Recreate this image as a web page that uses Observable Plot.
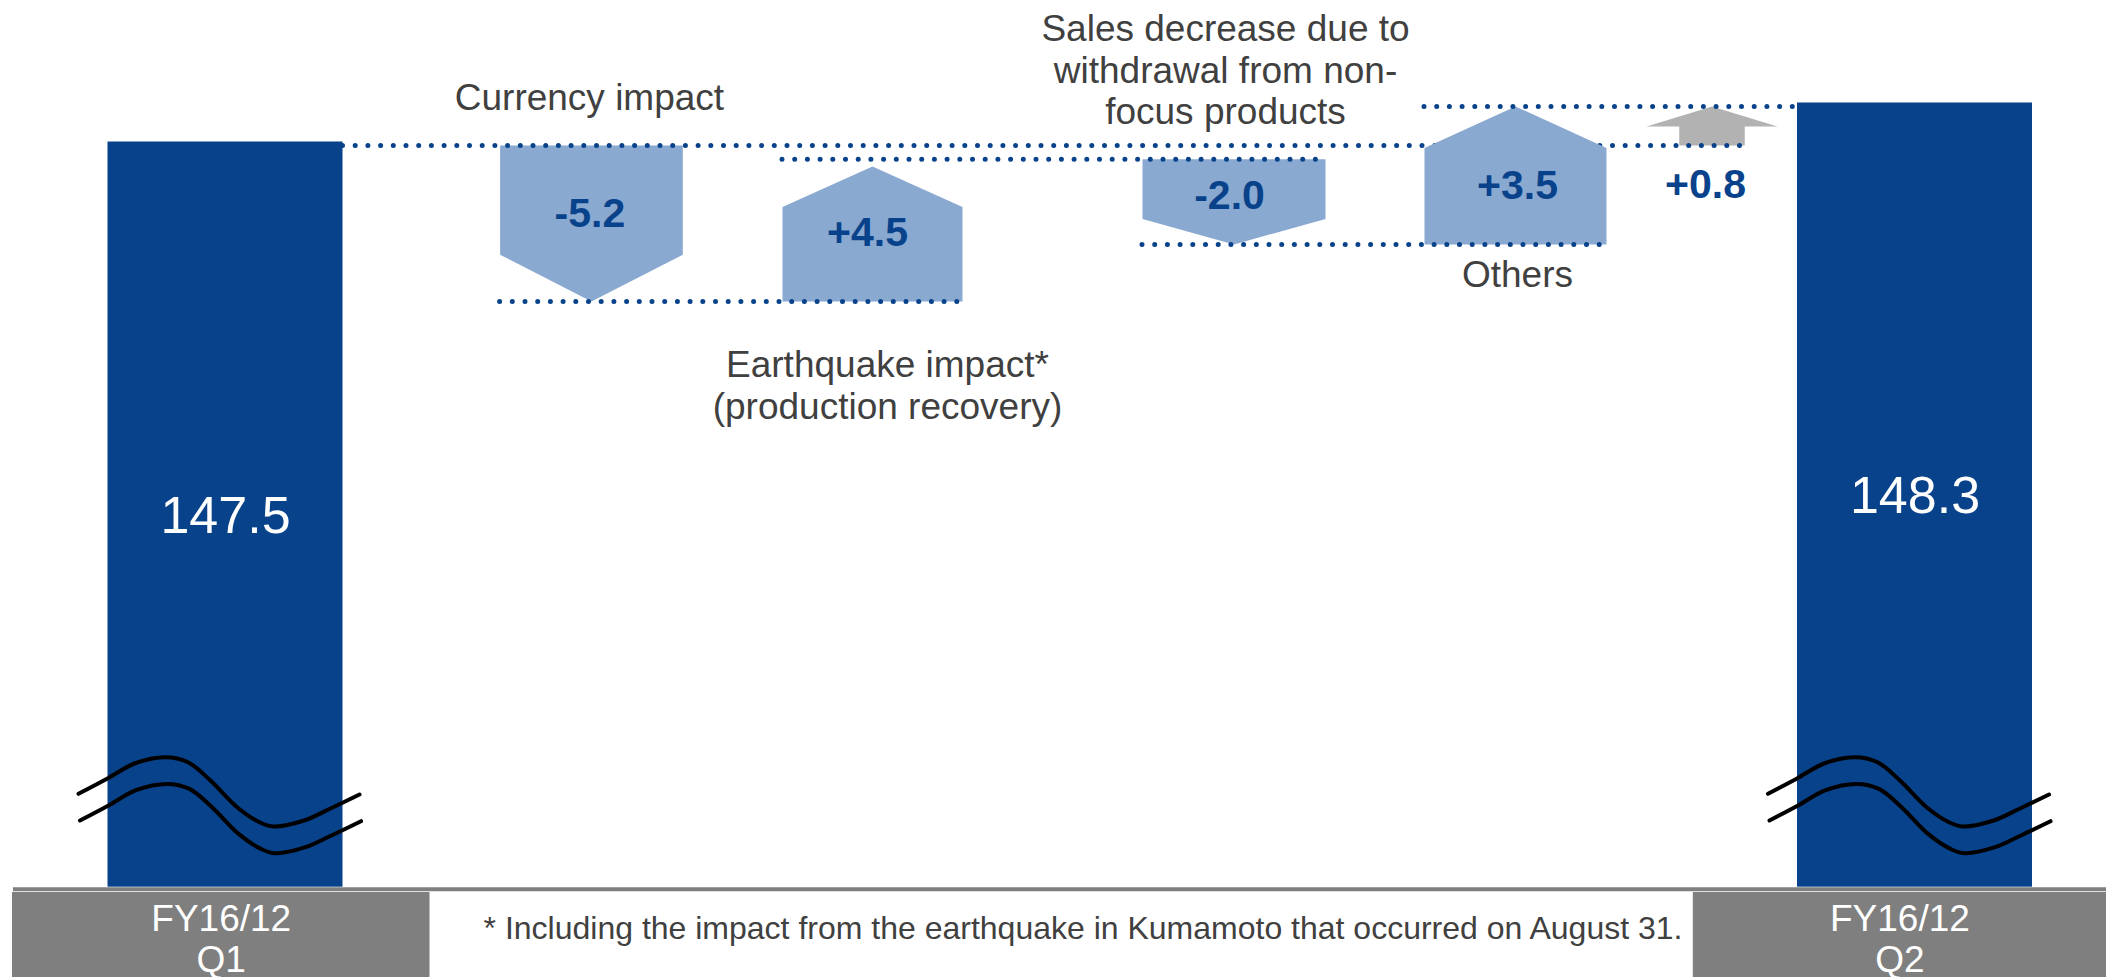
<!DOCTYPE html>
<html><head><meta charset="utf-8">
<script src="https://cdn.jsdelivr.net/npm/d3@7"></script>
<script src="https://cdn.jsdelivr.net/npm/@observablehq/plot@0.6"></script>
<style>
html,body{margin:0;padding:0;background:#fff;overflow:hidden;}
#chart svg{display:block;}
</style></head><body><div id="chart"></div>
<script>
// ---------------- data ----------------
const steps = ["FY16/12 Q1", "Currency impact", "Earthquake impact*", "Sales decrease", "Others", "Net change", "FY16/12 Q2"];
const kinds = ["total", "delta", "delta", "delta", "delta", "net", "total"];
const values = [147.5, -5.2, 4.5, -2.0, 3.5, 0.8, 148.3];
const valueLabels = ["147.5", "-5.2", "+4.5", "-2.0", "+3.5", "+0.8", "148.3"];
const annotations = ["", "Currency impact", "Earthquake impact*\n(production recovery)", "Sales decrease due to\nwithdrawal from non-\nfocus products", "Others", "", ""];
const periodLabels = ["FY16/12\nQ1", "FY16/12\nQ2"];
const footnote = "* Including the impact from the earthquake in Kumamoto that occurred on August 31.";

// ---------------- layout / style ----------------
const W = 2106, H = 977;
const slotX1 = [107.5, 499.6, 782, 1142, 1424, 1646, 1797];
const slotX2 = [342.5, 682.3, 962, 1325, 1606, 1777, 2032];
const tipInset = [0, 0, 7.3, 0, 0, 0, 0];
const yRange = [886.7, 301, 244, 158.7, 145, 106];   // broken, schematic axis
const boxX1 = [12, 1692.8], boxX2 = [429.5, 2106];
const footX = 1082.5;
const numDx = [0, -1.5, -5, -4.5, 2, -6.5, 0];
const numDy = [1.5, -9.4, 2.8, -6.2, 10.2, 59, 1.5];
const annDx = [0, -2, 15, -8.5, 2, 0, 0];
const annDy = [0, -35.7, 117, -35.2, 42.7, 0, 0];
// break-symbol outline (offsets from bar centre, px)
const waveDx = [-147, -118, -91, -60, -37.5, -15, 11.6, 34, 48, 78.6, 105, 134];
const waveDy = [0, -15.3, -30.3, -36.6, -31.6, -13.3, 13.4, 28.4, 32.7, 26.7, 14.7, 0.7];
const breakAt = 793.3, waveGap = 26.7;
const DARK = "#08428a", LIGHT = "#8aa9d1", GREYARROW = "#b2b2b2", BOX = "#7f7f7f", TXT = "#404040";
const FONT = "'Liberation Sans', Arial, Helvetica, sans-serif";

// ---------------- derived levels ----------------
const r1 = v => Math.round(v * 10) / 10;
const lvlStart = [], lvlEnd = [];
let run = values[0];
steps.forEach((s, i) => {
  if (kinds[i] === "total") { lvlStart.push(0); lvlEnd.push(values[i]); }
  else if (kinds[i] === "delta") { lvlStart.push(r1(run)); run += values[i]; lvlEnd.push(r1(run)); }
  else { lvlStart.push(values[0]); lvlEnd.push(r1(values[0] + values[i])); }
});
const yDomain = Array.from(new Set([...lvlStart, ...lvlEnd])).sort((a, b) => a - b);
const yS = d3.scaleLinear().domain(yDomain).range(yRange);
const py = v => yS(v), vy = p => yS.invert(p);
const idx = d3.range(steps.length);
const cx = i => (slotX1[i] + slotX2[i]) / 2;

// bars
const bars = idx.filter(i => kinds[i] === "total").map(i => ({x1: slotX1[i], x2: slotX2[i], top: lvlEnd[i]}));

// arrow polygons
const HEAD = 0.3;
function arrow(i) {
  const x1 = slotX1[i], x2 = slotX2[i], c = cx(i);
  const ps = py(lvlStart[i]);
  const pe0 = py(lvlEnd[i]);
  const pe = pe0 + Math.sign(ps - pe0) * tipInset[i];
  const sh = vy(pe + HEAD * (ps - pe)), tip = vy(pe);
  return [[x1, lvlStart[i]], [x2, lvlStart[i]], [x2, sh], [c, tip], [x1, sh]].map(([x, y]) => ({id: i, x, y}));
}
function netArrow(i) {
  const x1 = slotX1[i], x2 = slotX2[i], c = cx(i), q = (x2 - x1) / 4;
  const ps = py(lvlStart[i]), pe = py(lvlEnd[i]);
  const base = vy(pe + 0.51 * (ps - pe));
  return [[c - q, lvlStart[i]], [c + q, lvlStart[i]], [c + q, base], [x2, base], [c, lvlEnd[i]], [x1, base], [c - q, base]]
    .map(([x, y]) => ({id: i, x, y}));
}
const early = [1, 2, 3].flatMap(arrow);
const late = arrow(4);
const net = netArrow(5);

// connectors
const netI = kinds.indexOf("net");
const conn0 = [{y: values[0], x1: slotX2[0], x2: cx(netI) + (slotX2[netI] - slotX1[netI]) / 4}];
const conns = idx.filter(i => kinds[i] === "delta").map(i => {
  let n = i + 1; if (kinds[n] === "net") n++;
  return {y: lvlEnd[i], x1: slotX1[i], x2: kinds[n] === "total" ? slotX1[n] : slotX2[n]};
});

// break symbols
const waves = [];
bars.forEach((b, bi) => {
  const c = (b.x1 + b.x2) / 2;
  [0, 1].forEach(k => waveDx.forEach((dx, j) => waves.push({id: bi * 2 + k, x: c + dx + 1.5 * k, y: vy(breakAt + waveDy[j] + waveGap * k)})));
});

// labels
const barLabels = idx.filter(i => kinds[i] === "total").map(i => ({x: cx(i) + numDx[i], y: vy((py(0) + py(lvlEnd[i]) - 3.5) / 2 + numDy[i]), t: valueLabels[i]}));
const numLabels = idx.filter(i => kinds[i] !== "total").map(i => ({x: cx(i) + numDx[i], y: vy((py(lvlStart[i]) + py(lvlEnd[i])) / 2 + numDy[i]), t: valueLabels[i]}));
const annLabels = idx.filter(i => annotations[i]).map(i => {
  const a = py(lvlStart[i]), b = py(lvlEnd[i]);
  const anchor = annDy[i] < 0 ? Math.min(a, b) : Math.max(a, b);
  return {x: cx(i) + annDx[i], y: vy(anchor + annDy[i]), t: annotations[i]};
});
const boxes = periodLabels.map((t, k) => ({x1: boxX1[k], x2: boxX2[k], cx: (boxX1[k] + boxX2[k]) / 2, t}));

const dotted = {stroke: DARK, strokeWidth: 5, strokeDasharray: "0 12.7", strokeLinecap: "round"};

const chart = Plot.plot({
  width: W, height: H,
  marginTop: 0, marginBottom: 0, marginLeft: 0, marginRight: 0,
  x: {type: "linear", domain: [0, W], range: [0, W], axis: null},
  y: {type: "linear", domain: yDomain, range: yRange, axis: null},
  style: {background: "#fff", fontFamily: FONT, overflow: "visible"},
  marks: [
    Plot.rect(bars, {x1: "x1", x2: "x2", y1: 0, y2: "top", fill: DARK, insetTop: -3.5}),
    Plot.line(waves, {x: "x", y: "y", z: "id", stroke: "#000", strokeWidth: 4, curve: "catmull-rom"}),
    Plot.line(early, {x: "x", y: "y", z: "id", fill: LIGHT, stroke: "none"}),
    Plot.line(net, {x: "x", y: "y", z: "id", fill: GREYARROW, stroke: "none"}),
    Plot.ruleY(conn0, {y: "y", x1: "x1", x2: "x2", ...dotted}),
    Plot.line(late, {x: "x", y: "y", z: "id", fill: LIGHT, stroke: "none"}),
    Plot.ruleY(conns, {y: "y", x1: "x1", x2: "x2", ...dotted}),
    Plot.ruleY([0], {x1: 13, x2: W, dy: 2, stroke: BOX, strokeWidth: 4}),
    Plot.rect(boxes, {x1: "x1", x2: "x2", y1: 0, y2: 0, insetTop: 5.3, insetBottom: -90.3, fill: BOX}),
    Plot.text(boxes, {x: "cx", y: 0, text: "t", dy: 84.3, lineAnchor: "bottom", lineHeight: 1.108, fill: "#fff", fontSize: 37, fontFamily: FONT}),
    Plot.text([footnote], {x: footX, y: 0, text: d => d, dy: 51.3, lineAnchor: "bottom", fill: TXT, fontSize: 32, fontFamily: FONT}),
    Plot.text(barLabels, {x: "x", y: "y", text: "t", fill: "#fff", fontSize: 52, fontFamily: FONT}),
    Plot.text(numLabels, {x: "x", y: "y", text: "t", fill: DARK, fontSize: 41, fontWeight: "bold", fontFamily: FONT}),
    Plot.text(annLabels, {x: "x", y: "y", text: "t", lineAnchor: "bottom", lineHeight: 1.12, fill: TXT, fontSize: 37, fontFamily: FONT})
  ]
});
document.getElementById("chart").appendChild(chart);
</script>
</body></html>
